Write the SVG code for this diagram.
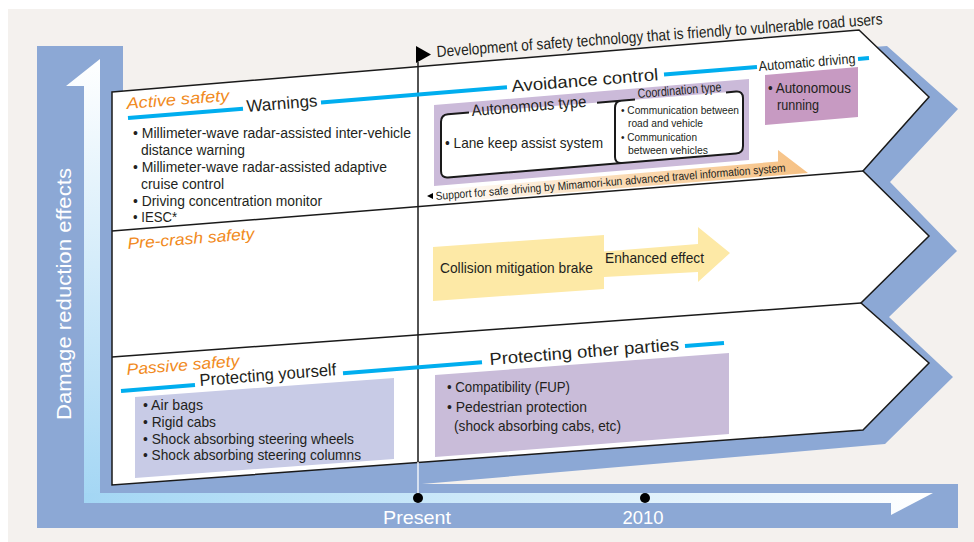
<svg xmlns="http://www.w3.org/2000/svg" width="974" height="542" viewBox="0 0 974 542">
<defs>
<style>
.bg{fill:#f4f1ee}
.frame{fill:#8ca8d5}
.panel{fill:#fff;stroke:#1a1a1a;stroke-width:1.5;stroke-linejoin:miter}
.div{fill:none;stroke:#1a1a1a;stroke-width:1.5}
.cyan{fill:none;stroke:#00aeef;stroke-width:4}
.box{fill:none;stroke:#1a1a1a;stroke-width:2}
.boxfill{fill:#ffffff;stroke:none}
text{font-family:"Liberation Sans",Arial,sans-serif;fill:#231f20}
.c{font-family:"Liberation Sans Narrow","Liberation Sans",Arial,sans-serif}
.or{fill:#f18a21;font-style:italic}
.w{fill:#ffffff}
</style>
<linearGradient id="gv" x1="0" y1="0" x2="0" y2="1">
<stop offset="0" stop-color="#ffffff"/>
<stop offset="1" stop-color="#a3d6f4"/>
</linearGradient>
<linearGradient id="gh" x1="0" y1="0" x2="1" y2="0">
<stop offset="0" stop-color="#a3d6f4"/>
<stop offset="1" stop-color="#ffffff"/>
</linearGradient>
<linearGradient id="go" x1="0" y1="0" x2="1" y2="0">
<stop offset="0" stop-color="#ffffff"/>
<stop offset="0.5" stop-color="#fadbb5"/>
<stop offset="1" stop-color="#f6c184"/>
</linearGradient>
</defs>

<rect class="bg" x="8" y="9" width="966" height="533"/>

<g id="frame">
<rect class="frame" x="37" y="46" width="86" height="482"/>
<rect class="frame" x="37" y="484" width="921" height="44"/>
<polygon class="frame" points="110,100 887,46 958,109 890,182 957,251 889,317 953,377 885,444 422,484 110,484"/>
<polygon fill="url(#gv)" points="100,59 100,503 84,503 84,86 66,86"/>
<polygon fill="url(#gh)" points="84,493 933,493 891,515 891,503 84,503"/>
<text class="w" x="71" y="294" font-size="21" text-anchor="middle" textLength="252" lengthAdjust="spacingAndGlyphs" transform="rotate(-90 71 294)">Damage reduction effects</text>
</g>

<g id="panel">
<polygon class="panel" points="112,92 859,30 929,97 863,171 929,236 861,303 929,363 863,430 112,485"/>
<line class="div" x1="112" y1="231" x2="863" y2="171"/>
<line class="div" x1="112" y1="357" x2="861" y2="303"/>
</g>

<g id="timeline">
<line x1="418" y1="62" x2="418" y2="462" stroke="#1a1a1a" stroke-width="1.5"/>
<line x1="418" y1="462" x2="418" y2="497" stroke="#ffffff" stroke-width="1.3"/>
<polygon points="416,46 431,54.5 416,63" fill="#000"/>
<text class="c" x="437" y="57" font-size="16" textLength="447" lengthAdjust="spacingAndGlyphs" transform="rotate(-4.2 437 57)">Development of safety technology that is friendly to vulnerable road users</text>
<circle cx="418" cy="498" r="5" fill="#000"/>
<circle cx="645" cy="498" r="5" fill="#000"/>
<text class="w" x="417" y="524" font-size="19" text-anchor="middle" textLength="68" lengthAdjust="spacingAndGlyphs">Present</text>
<text class="w" x="643" y="524" font-size="19" text-anchor="middle" textLength="41" lengthAdjust="spacingAndGlyphs">2010</text>
</g>

<g id="connectors">
<path class="cyan" d="M128,118 L243,108.7 M321,102.4 L507,87.3 M664,74.6 L757,67 M858,58.9 L869,58"/>
<path class="cyan" d="M121,391 L195,385.1 M343,373.3 L482,362.3 M685,346.1 L724,343"/>
</g>

<g id="active-safety">
<text class="or" x="127" y="109" font-size="16" textLength="103" lengthAdjust="spacingAndGlyphs" transform="rotate(-4.63 127 109)">Active safety</text>
<text x="247" y="112" font-size="17" textLength="71" lengthAdjust="spacingAndGlyphs" transform="rotate(-4.63 247 112)">Warnings</text>
<text class="c" x="133" y="138" font-size="14" textLength="278" lengthAdjust="spacingAndGlyphs">• Millimeter-wave radar-assisted inter-vehicle</text>
<text class="c" x="141" y="155" font-size="14" textLength="104" lengthAdjust="spacingAndGlyphs">distance warning</text>
<text class="c" x="133" y="172" font-size="14" textLength="254" lengthAdjust="spacingAndGlyphs">• Millimeter-wave radar-assisted adaptive</text>
<text class="c" x="141" y="189" font-size="14" textLength="83" lengthAdjust="spacingAndGlyphs">cruise control</text>
<text class="c" x="133" y="206" font-size="14" textLength="189" lengthAdjust="spacingAndGlyphs">• Driving concentration monitor</text>
<text class="c" x="133" y="222" font-size="14" textLength="44" lengthAdjust="spacingAndGlyphs">• IESC*</text>
</g>

<g id="avoidance-control">
<text x="512" y="92" font-size="17" textLength="147" lengthAdjust="spacingAndGlyphs" transform="rotate(-4.63 512 92)">Avoidance control</text>
<polygon points="434,105 749,79 749,160 434,186" fill="#cbbad9"/>
<polygon points="435,190 778,161.5 778,150 808,173 435,203" fill="url(#go)"/>
<path class="boxfill" d="M441,121.8 Q441,114.8 448,114.2 L615,101.2 L736,91.6 Q743,91 743,98 L743,146 Q743,153 736,153.6 L448,177.4 Q441,178 441,171 Z"/>
<path class="box" d="M469,112.5 L448,114.2 Q441,114.8 441,121.8 L441,171 Q441,178 448,177.4 L736,153.6 Q743,153 743,146 L743,98 Q743,91 736,91.6 L726,92.4"/>
<path class="box" d="M597,102.7 L635,99.6 M615,108 Q615,101.2 621,100.7 M615,108 L615,157 Q615,163.6 622,163"/>
<text x="472" y="116" font-size="16" textLength="115" lengthAdjust="spacingAndGlyphs" transform="rotate(-4.63 472 116)">Autonomous type</text>
<text class="c" x="638" y="98" font-size="13" textLength="84" lengthAdjust="spacingAndGlyphs" transform="rotate(-4.63 638 98)">Coordination type</text>
<text class="c" x="445" y="148" font-size="15" textLength="158" lengthAdjust="spacingAndGlyphs">• Lane keep assist system</text>
<text class="c" x="621" y="114" font-size="11.5" textLength="118" lengthAdjust="spacingAndGlyphs">• Communication between</text>
<text class="c" x="628" y="127" font-size="11.5" textLength="75" lengthAdjust="spacingAndGlyphs">road and vehicle</text>
<text class="c" x="621" y="141" font-size="11.5" textLength="76" lengthAdjust="spacingAndGlyphs">• Communication</text>
<text class="c" x="628" y="154" font-size="11.5" textLength="80" lengthAdjust="spacingAndGlyphs">between vehicles</text>
<polygon points="427,196 433,193 433,199" fill="#000"/>
<text class="c" x="436" y="200" font-size="11.5" textLength="351" lengthAdjust="spacingAndGlyphs" transform="rotate(-4.63 436 200)">Support for safe driving by Mimamori-kun advanced travel information system</text>
</g>

<g id="automatic-driving">
<text class="c" x="759" y="71" font-size="14" textLength="97" lengthAdjust="spacingAndGlyphs" transform="rotate(-4.63 759 71)">Automatic driving</text>
<polygon points="765,75 858,67 858,117 765,125" fill="#c79ac2"/>
<text class="c" x="768" y="93" font-size="15" textLength="83" lengthAdjust="spacingAndGlyphs">• Autonomous</text>
<text class="c" x="777" y="110" font-size="15" textLength="42" lengthAdjust="spacingAndGlyphs">running</text>
</g>

<g id="pre-crash-safety">
<text class="or" x="128" y="249" font-size="16" textLength="127" lengthAdjust="spacingAndGlyphs" transform="rotate(-4.5 128 249)">Pre-crash safety</text>
<polygon points="433,247 604,235 604,251.5 698,244 698,227 730,253 698,282 698,272 604,277 604,289 433,301" fill="#fde9a6"/>
<text class="c" x="440" y="273" font-size="14.5" textLength="153" lengthAdjust="spacingAndGlyphs">Collision mitigation brake</text>
<text class="c" x="605" y="263" font-size="14.5" textLength="99" lengthAdjust="spacingAndGlyphs">Enhanced effect</text>
</g>

<g id="passive-safety">
<text class="or" x="127" y="375" font-size="16" textLength="113" lengthAdjust="spacingAndGlyphs" transform="rotate(-4.55 127 375)">Passive safety</text>
<text x="200" y="386" font-size="17" textLength="137" lengthAdjust="spacingAndGlyphs" transform="rotate(-4.55 200 386)">Protecting yourself</text>
<polygon points="135,397 394,378 394,459 135,478" fill="#c8cbe6"/>
<text class="c" x="143" y="410" font-size="14.5" textLength="60" lengthAdjust="spacingAndGlyphs">• Air bags</text>
<text class="c" x="143" y="427" font-size="14.5" textLength="73" lengthAdjust="spacingAndGlyphs">• Rigid cabs</text>
<text class="c" x="143" y="444" font-size="14.5" textLength="211" lengthAdjust="spacingAndGlyphs">• Shock absorbing steering wheels</text>
<text class="c" x="143" y="460" font-size="14.5" textLength="218" lengthAdjust="spacingAndGlyphs">• Shock absorbing steering columns</text>
</g>

<g id="protecting-other-parties">
<text x="490" y="365" font-size="17" textLength="190" lengthAdjust="spacingAndGlyphs" transform="rotate(-4.55 490 365)">Protecting other parties</text>
<polygon points="435,375 729,353 729,434 435,457" fill="#c9bcd9"/>
<text class="c" x="447" y="392" font-size="14.5" textLength="123" lengthAdjust="spacingAndGlyphs">• Compatibility (FUP)</text>
<text class="c" x="447" y="412" font-size="14.5" textLength="140" lengthAdjust="spacingAndGlyphs">• Pedestrian protection</text>
<text class="c" x="454" y="431" font-size="14.5" textLength="167" lengthAdjust="spacingAndGlyphs">(shock absorbing cabs, etc)</text>
</g>
</svg>
